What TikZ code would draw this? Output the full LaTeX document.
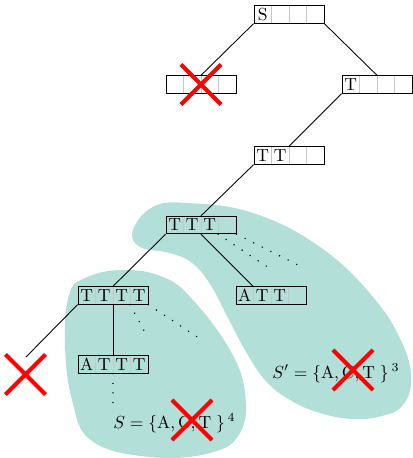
\documentclass[tikz,border=0pt]{standalone}
\usetikzlibrary{shapes.misc}
\definecolor{blobcol}{RGB}{178,223,216}
\newcommand{\cellrow}[4]{\makebox[10pt]{#1}\makebox[10pt]{#2}\makebox[10pt]{#3}\makebox[10pt]{#4}}
\begin{document}
\begin{tikzpicture}[x=0.5714pt,y=-0.5714pt,
  seq/.style={draw, line width=0.5pt, inner sep=0pt, minimum width=40pt, minimum height=10pt,
    text height=6.83pt, text depth=0pt,
    path picture={\foreach \i in {1,2,3}
      \draw[black!22, line width=0.5pt] ([xshift=\i*10pt]path picture bounding box.south west) -- ([xshift=\i*10pt]path picture bounding box.north west);}},
  edge/.style={line width=0.5pt},
  dots/.style={line width=0.9pt, line cap=round, dash pattern=on 0pt off 5.5pt},
  xmark/.style={cross out, draw=red, line width=2.3pt, minimum size=20.6pt, inner sep=0pt},
  blob/.style={fill=blobcol, draw=none}]
\useasboundingbox (0,0) rectangle (413,458);
% blobs (behind)
\fill[blob] plot[smooth cycle, tension=0.7] coordinates {(122,270) (163,277) (193,300) (230,350) (245,393) (240,433) (210,453) (150,457) (92,441) (72,400) (65,343) (69,295) (85,278)};
\fill[blob] plot[smooth cycle, tension=0.7] coordinates {(133,230) (153,207) (187,203) (253,213) (320,247) (373,297) (403,345) (411,382) (402,406) (382,416) (353,419) (320,413) (290,400) (265,380) (245,350) (228,318) (210,284) (192,263) (170,253) (140,247)};
% boxes
\node[seq] (S) at (289,14.5) {\cellrow{S}{}{}{}};
\node[seq] (L) at (201,84.5) {\cellrow{}{}{}{}};
\node[seq] (T) at (377,84.5) {\cellrow{T}{}{}{}};
\node[seq] (TT) at (289,155.5) {\cellrow{T}{T}{}{}};
\node[seq] (TTT) at (201,225) {\cellrow{T}{T}{T}{}};
\node[seq] (ATT) at (271,295.5) {\cellrow{A}{T}{T}{}};
\node[seq] (TTTT) at (113,295.5) {\cellrow{T}{T}{T}{T}};
\node[seq] (ATTT) at (113,364.5) {\cellrow{A}{T}{T}{T}};
% free ends
\coordinate (d1) at (272,270);
\coordinate (d2) at (302,267);
\coordinate (d3) at (148,338);
\coordinate (d4) at (202,340);
\coordinate (d5) at (113,405);
\coordinate (e1) at (26,357);
% edges
\draw[edge] (S.south west) -- (L.north);
\draw[edge] (S.south east) -- (T.north);
\draw[edge] (T.south west) -- (TT.north);
\draw[edge] (TT.south west) -- (TTT.north);
\draw[edge] (TTT.south west) -- (TTTT.north);
\draw[edge] (TTT.south) -- ([xshift=10pt]ATT.north west);
\draw[edge] (TTTT.south) -- (ATTT.north);
\draw[edge] (TTTT.south west) -- (e1);
\draw[dots] ([xshift=30pt]TTT.south west) -- (d1);
\draw[dots] (TTT.south east) -- (d2);
\draw[dots] ([xshift=30pt]TTTT.south west) -- (d3);
\draw[dots] (TTTT.south east) -- (d4);
\draw[dots] (ATTT.south) -- (d5);
% formulas
\node[anchor=base west, inner sep=0pt] (f1) at (113,428) {$S=\{\mathrm{A},\mathrm{C},\mathrm{T}\;\}\,{}^4$};
\node[anchor=base west, inner sep=0pt] (f2) at (272,378) {$S'=\{\mathrm{A},\mathrm{C},\mathrm{T}\;\}\,{}^3$};
% crosses
\node[xmark] (x1) at (201,84.5) {};
\node[xmark] (x2) at (25.5,374.5) {};
\node[xmark] (x3) at (192,420) {};
\node[xmark] (x4) at (353,370) {};
\end{tikzpicture}
\end{document}
